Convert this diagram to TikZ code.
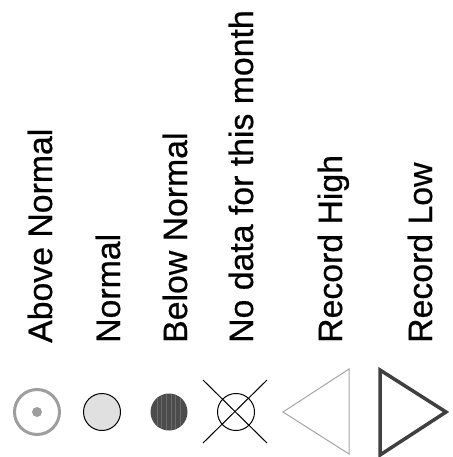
\documentclass[tikz,border=0pt]{standalone}
\usepackage{fontspec}
\setmainfont[FakeBold=0.6]{Liberation Sans}
\begin{document}
\begin{tikzpicture}[x=1pt,y=-1pt,
  lbl/.style={rotate=90,anchor=base west,inner sep=0pt,font=\fontsize{33.8}{36}\selectfont},
  ringgray/.style={draw=black!38,line width=3pt},
  dotgray/.style={fill=black!38},
  normalc/.style={draw=black,fill=black!12,line width=1pt},
  belowc/.style={fill=black!70},
  stripe/.style={draw=black!58,line width=0.5pt},
  nodatac/.style={draw=black,line width=1pt},
  highTri/.style={draw=black!35,line width=1pt},
  lowTri/.style={draw=black!75,line width=3.5pt,line join=miter}]
\useasboundingbox (0,0) rectangle (452,457);
\node[lbl] (t1) at (52,343) {Above Normal};
\node[lbl] (t2) at (120,343) {Normal};
\node[lbl] (t3) at (187,343) {Below Normal};
\node[lbl] (t4) at (253,343) {No data for this month};
\node[lbl] (t5) at (342,343) {Record High};
\node[lbl] (t6) at (432,343) {Record Low};
% symbols
\draw[ringgray] (37,412) circle (22.5);
\fill[dotgray] (37,412) circle (5);
\draw[normalc] (102,412) circle (18.5);
\fill[belowc] (169,412) circle (18.5);
\begin{scope}
\clip (169,412) circle (18.5);
\foreach \sx in {157,161,166,171,175,180} {\draw[stripe] (\sx,390) -- (\sx,435);}
\end{scope}
\draw[nodatac] (236,412) circle (18.5);
\coordinate (xa) at (203,380);
\coordinate (xb) at (267,443);
\coordinate (xc) at (203,443);
\coordinate (xd) at (267,380);
\draw[nodatac] (xa) -- (xb);
\draw[nodatac] (xc) -- (xd);
\coordinate (ha) at (283,412);
\coordinate (hb) at (349,369);
\coordinate (hc) at (349,454);
\draw[highTri] (ha) -- (hb) -- (hc) -- cycle;
\coordinate (la) at (380,370);
\coordinate (lb) at (380,455);
\coordinate (lc) at (446,412);
\draw[lowTri] (la) -- (lc) -- (lb) -- cycle;
\end{tikzpicture}
\end{document}
